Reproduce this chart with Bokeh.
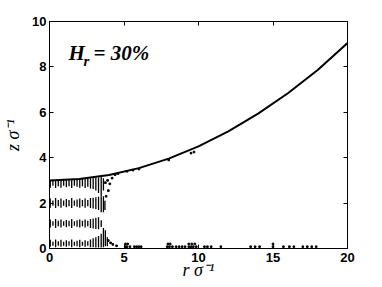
from bokeh.plotting import figure
from bokeh.models import LinearAxis, Range1d, FixedTicker
from bokeh.core.properties import value
from bokeh.embed import file_html
from bokeh.resources import INLINE

# Interface curve z(r)
curve_r = [0, 2, 4, 6, 8, 10, 12, 14, 16, 18, 20]
curve_z = [3.0, 3.06, 3.24, 3.54, 3.96, 4.5, 5.16, 5.94, 6.84, 7.86, 9.05]

# Layered density stripes (vertical segments): positions and z extents
stripe_r = [0.05, 0.23, 0.41, 0.59, 0.77, 0.95, 1.13, 1.31, 1.49, 1.67,
            1.85, 2.03, 2.21, 2.39, 2.57, 2.75, 2.93, 3.11, 3.29, 3.47]
l1_lo = [0.08, 0.12, 0.06, 0.12, 0.08, 0.12, 0.08, 0.12, 0.06, 0.12,
         0.10, 0.06, 0.12, 0.08, 0.12, 0.06, 0.06, 0.04, 0.04, 0.04]
l1_hi = [0.38, 0.30, 0.40, 0.32, 0.38, 0.30, 0.36, 0.32, 0.40, 0.30,
         0.34, 0.38, 0.30, 0.36, 0.32, 0.40, 0.45, 0.50, 0.55, 0.65]
l2_lo = [0.92, 1.00, 0.90, 0.98, 0.92, 1.00, 0.94, 0.98, 0.90, 1.00,
         0.96, 0.92, 0.98, 0.92, 0.98, 0.90, 0.88, 0.86, 0.85, 0.95]
l2_hi = [1.28, 1.20, 1.30, 1.22, 1.28, 1.20, 1.26, 1.22, 1.30, 1.20,
         1.24, 1.28, 1.22, 1.28, 1.22, 1.30, 1.32, 1.35, 1.38, 1.25]
l3_lo = [1.80, 1.88, 1.78, 1.86, 1.80, 1.88, 1.82, 1.86, 1.78, 1.88,
         1.84, 1.80, 1.86, 1.80, 1.86, 1.78, 1.76, 1.74, 1.70, 1.60]
l3_hi = [2.20, 2.12, 2.22, 2.14, 2.20, 2.12, 2.18, 2.14, 2.22, 2.12,
         2.16, 2.20, 2.14, 2.20, 2.14, 2.22, 2.24, 2.26, 2.28, 2.30]
l4_lo = [2.68, 2.76, 2.66, 2.74, 2.68, 2.76, 2.70, 2.74, 2.66, 2.76,
         2.72, 2.68, 2.74, 2.66, 2.72, 2.64, 2.62, 2.55, 2.45, 2.30]
l4_hi = [3.00, 3.00, 3.00, 3.01, 3.01, 3.01, 3.02, 3.02, 3.03, 3.03,
         3.04, 3.05, 3.06, 3.07, 3.08, 3.09, 3.10, 3.11, 3.13, 3.15]

# Extra stripes near the edge of the layered region
edge_r = [3.62, 3.75, 3.88, 3.62, 3.72, 3.62]
edge_lo = [0.05, 0.10, 0.10, 1.60, 1.70, 2.55]
edge_hi = [0.90, 0.80, 0.50, 2.30, 2.10, 3.10]

# Scattered particles
dot_r = [3.75, 3.90, 4.05, 4.20, 4.40, 4.60, 3.95, 3.80, 5.20, 5.60, 6.00,
         8.00, 9.50, 9.70,
         3.95, 4.10, 4.25, 4.50, 5.10, 5.20, 5.40, 5.70, 5.85, 6.00, 6.15,
         7.90, 8.05, 8.25, 8.50, 8.70, 8.90, 9.10, 9.35, 9.50, 9.65, 9.85,
         10.40, 10.60, 10.85, 11.50, 13.50, 13.80, 14.10, 15.00, 15.70,
         16.10, 16.40, 17.00, 17.30, 17.60, 17.90,
         5.10, 5.25, 7.95, 8.10, 9.35, 9.55, 9.75, 15.0]
dot_z = [2.90, 3.00, 2.85, 3.10, 3.25, 3.30, 2.55, 2.30, 3.40, 3.45, 3.50,
         3.90, 4.20, 4.25,
         0.35, 0.25, 0.18, 0.12, 0.08, 0.08, 0.08, 0.08, 0.08, 0.08, 0.08,
         0.08, 0.08, 0.08, 0.08, 0.08, 0.08, 0.08, 0.08, 0.08, 0.08, 0.08,
         0.08, 0.08, 0.08, 0.08, 0.08, 0.08, 0.08, 0.08, 0.08,
         0.08, 0.08, 0.08, 0.08, 0.08, 0.08,
         0.20, 0.20, 0.20, 0.20, 0.20, 0.20, 0.20, 0.20]

x_ticks = [0, 5, 10, 15, 20]
y_ticks = [0, 2, 4, 6, 8, 10]

W, H = 380, 286
p = figure(width=W, height=H, x_range=Range1d(0, 20), y_range=Range1d(0, 10),
           output_backend="svg", toolbar_location=None,
           min_border_left=49, min_border_right=W - 347, min_border_top=21,
           min_border_bottom=H - 248)
p.grid.visible = False
p.outline_line_color = "black"
p.background_fill_color = "white"

for r_lo, r_hi in [(l1_lo, l1_hi), (l2_lo, l2_hi), (l3_lo, l3_hi), (l4_lo, l4_hi)]:
    p.segment(x0=stripe_r, y0=r_lo, x1=stripe_r, y1=r_hi, line_color="black", line_width=1.3)
p.segment(x0=edge_r, y0=edge_lo, x1=edge_r, y1=edge_hi, line_color="black", line_width=1.3)
p.scatter(dot_r, dot_z, marker="square", size=1.6, color="black")
p.line(curve_r, curve_z, line_color="black", line_width=2)

p.text(x=[1.28], y=[8.63], text=["H"], text_font=value("Liberation Serif"),
       text_font_style="bold italic", text_font_size="21px", text_baseline="alphabetic")
p.text(x=[2.28], y=[8.25], text=["r"], text_font=value("Liberation Serif"),
       text_font_style="bold italic", text_font_size="15px", text_baseline="alphabetic")
p.text(x=[2.95], y=[8.63], text=["= 30%"], text_font=value("Liberation Serif"),
       text_font_style="bold italic", text_font_size="21px", text_baseline="alphabetic")

def style(ax, ticks):
    ax.ticker = FixedTicker(ticks=ticks)
    ax.axis_line_color = "black"
    ax.major_tick_line_color = "black"
    ax.major_tick_in = 4
    ax.major_tick_out = 0
    ax.minor_tick_in = 0
    ax.minor_tick_out = 0
    ax.major_label_text_font = "Liberation Sans"
    ax.major_label_text_font_style = "bold"
    ax.major_label_text_font_size = "13px"
    ax.major_label_text_color = "black"
    ax.axis_label_text_font = "Liberation Serif"
    ax.axis_label_text_font_style = "italic"
    ax.axis_label_text_font_size = "18px"
    ax.axis_label_text_color = "black"

style(p.xaxis[0], x_ticks)
style(p.yaxis[0], y_ticks)
p.xaxis[0].axis_label = "r σ⁻¹"
p.yaxis[0].axis_label = "z σ⁻¹"
p.xaxis[0].major_label_standoff = 4
p.xaxis[0].axis_label_standoff = -5
p.yaxis[0].major_label_standoff = 3
p.yaxis[0].axis_label_standoff = 6

top = LinearAxis()
right = LinearAxis()
style(top, x_ticks)
style(right, y_ticks)
for ax in (top, right):
    ax.major_label_text_color = None
    ax.major_label_standoff = 0
p.add_layout(top, "above")
p.add_layout(right, "right")

open("out.html", "w").write(file_html(p, INLINE))
